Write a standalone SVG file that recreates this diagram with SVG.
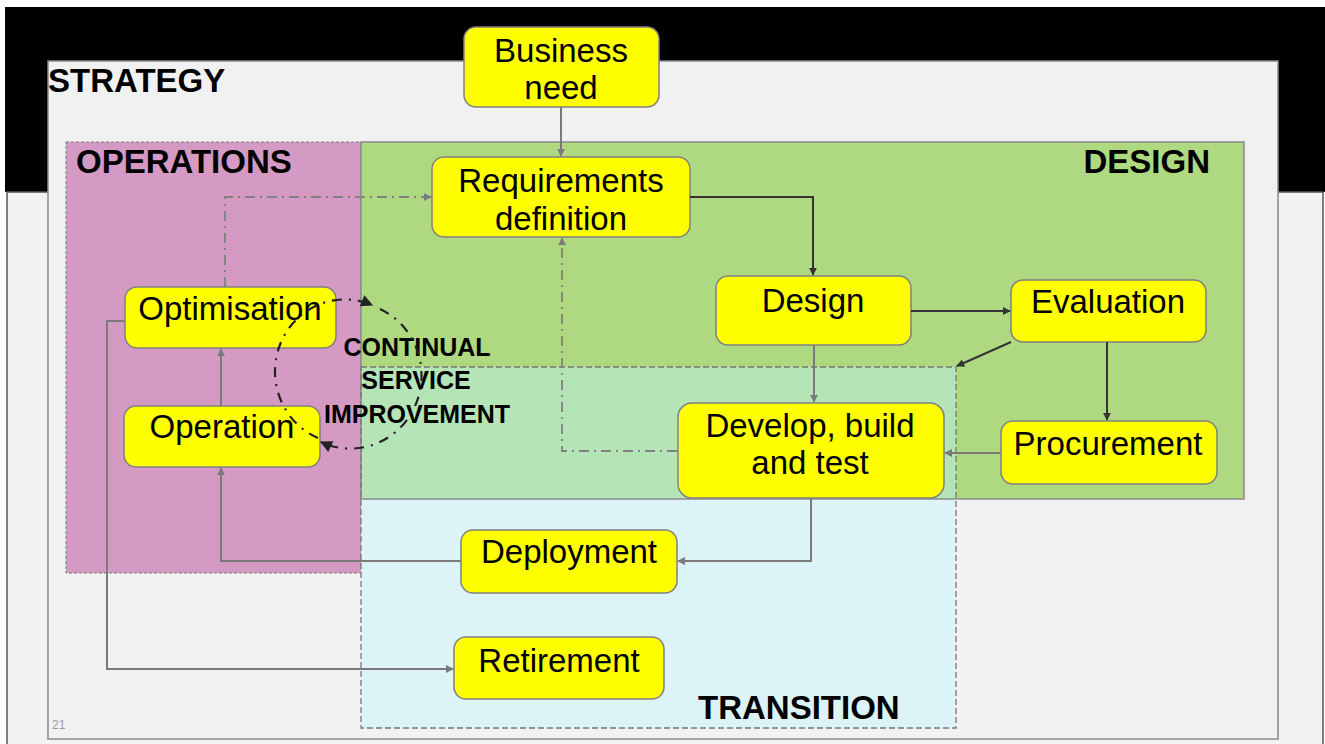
<svg xmlns="http://www.w3.org/2000/svg" width="1325" height="744" viewBox="0 0 1325 744">
<defs>
<style>
.node rect{fill:#ffff00;stroke:#808080;stroke-width:1.5}
.node text{font-family:"Liberation Sans",Arial,sans-serif;font-size:33px;fill:#000;text-anchor:middle}
.title{font-family:"Liberation Sans",Arial,sans-serif;font-size:33px;font-weight:bold;fill:#000}
.csi{font-family:"Liberation Sans",Arial,sans-serif;font-size:25px;font-weight:bold;fill:#000;text-anchor:middle}
.cg{fill:none;stroke:#7a7a7a;stroke-width:2}
.cd{fill:none;stroke:#333;stroke-width:2}
.dd{fill:none;stroke:#808080;stroke-width:1.8;stroke-dasharray:10 5 2 5}
.circ{fill:none;stroke:#222;stroke-width:2.2;stroke-dasharray:10 7 2 7}
</style>
<marker id="ag" viewBox="0 0 10 10" refX="9" refY="5" markerWidth="8" markerHeight="8" markerUnits="userSpaceOnUse" orient="auto"><path d="M0 0L10 5L0 10z" fill="#7a7a7a"/></marker>
<marker id="ad" viewBox="0 0 10 10" refX="9" refY="5" markerWidth="8" markerHeight="8" markerUnits="userSpaceOnUse" orient="auto"><path d="M0 0L10 5L0 10z" fill="#333"/></marker>
<marker id="ak" viewBox="0 0 10 10" refX="9" refY="5" markerWidth="14" markerHeight="12" markerUnits="userSpaceOnUse" orient="auto"><path d="M0 0L10 5L0 10z" fill="#222"/></marker>
</defs>
<rect x="0" y="0" width="1325" height="744" fill="#ffffff"/>
<rect x="5" y="7" width="1320" height="185" fill="#000000"/>
<rect x="7" y="192" width="1316" height="560" fill="#f2f2f2" stroke="#555" stroke-width="1.5"/>
<g id="strategy">
<rect x="48" y="61" width="1230" height="678" fill="#f1f1f1" stroke="#8a8a8a" stroke-width="1.5"/>
<text class="title" x="48" y="92">STRATEGY</text>
<text x="52" y="729" font-family="Liberation Sans,Arial,sans-serif" font-size="12" fill="#9a9a9a">21</text>
</g>
<g id="operations">
<rect x="66" y="142" width="295" height="431" fill="#d49ac4" stroke="#7a7a7a" stroke-width="1" stroke-dasharray="3 2"/>
<text class="title" x="76" y="173">OPERATIONS</text>
</g>
<g id="design-area">
<rect x="361" y="142" width="883" height="357" fill="#aed981"/>
</g>
<g id="transition">
<rect x="361" y="367" width="595" height="361" fill="#dcf3f7"/>
<rect x="361" y="367" width="595" height="132" fill="#b5e5b7"/>
<rect x="361" y="142" width="883" height="357" fill="none" stroke="#8a8a8a" stroke-width="1.5"/>
<rect x="361" y="367" width="595" height="361" fill="none" stroke="#777" stroke-width="1.3" stroke-dasharray="6 3"/>
<text class="title" x="1210" y="173" text-anchor="end">DESIGN</text>
<text class="title" x="698" y="719">TRANSITION</text>
</g>
<g id="n-business" class="node"><rect x="464" y="27" width="195" height="80" rx="12"/><text x="561" y="62">Business</text><text x="561" y="99">need</text></g>
<g id="n-req" class="node"><rect x="432" y="157" width="258" height="80" rx="12"/><text x="561" y="192">Requirements</text><text x="561" y="230">definition</text></g>
<g id="n-design" class="node"><rect x="716" y="276" width="195" height="69" rx="12"/><text x="813" y="312">Design</text></g>
<g id="n-eval" class="node"><rect x="1011" y="280" width="195" height="62" rx="12"/><text x="1108" y="313">Evaluation</text></g>
<g id="n-proc" class="node"><rect x="1001" y="421" width="216" height="63" rx="12"/><text x="1108" y="455">Procurement</text></g>
<g id="n-dev" class="node"><rect x="678" y="403" width="266" height="95" rx="14"/><text x="810" y="437">Develop, build</text><text x="810" y="474">and test</text></g>
<g id="n-deploy" class="node"><rect x="461" y="530" width="216" height="63" rx="12"/><text x="569" y="563">Deployment</text></g>
<g id="n-retire" class="node"><rect x="454" y="637" width="210" height="62" rx="12"/><text x="559" y="672">Retirement</text></g>
<g id="n-optim" class="node"><rect x="125" y="287" width="211" height="61" rx="12"/><text x="230" y="320">Optimisation</text></g>
<g id="n-oper" class="node"><rect x="124" y="406" width="196" height="61" rx="12"/><text x="222" y="438">Operation</text></g>
<g id="csi-label">
<text class="csi" x="417" y="356">CONTINUAL</text>
<text class="csi" x="416" y="389">SERVICE</text>
<text class="csi" x="417" y="423">IMPROVEMENT</text>
</g>
<g id="connectors">
<path class="cg" d="M561 107V156" marker-end="url(#ag)"/>
<path class="cd" d="M690 197H813V275" marker-end="url(#ad)"/>
<path class="cd" d="M911 311H1010" marker-end="url(#ad)"/>
<path class="cd" d="M1011 342L957 366" marker-end="url(#ad)"/>
<path class="cd" d="M1107 342V420" marker-end="url(#ad)"/>
<path class="cg" d="M1001 453H945" marker-end="url(#ag)"/>
<path class="cg" d="M814 345V402" marker-end="url(#ag)"/>
<path class="cg" d="M811 498V561H678" marker-end="url(#ag)"/>
<path class="cg" d="M461 561H221V468" marker-end="url(#ag)"/>
<path class="cg" d="M221 406V349" marker-end="url(#ag)"/>
<path class="cg" d="M125 321H107V669H453" marker-end="url(#ag)"/>
<path class="dd" d="M225 287V197H431" marker-end="url(#ag)"/>
<path class="dd" d="M677 451H562V238" marker-end="url(#ag)"/>
<path class="circ" d="M318 438A69 71 0 0 1 372 305" marker-end="url(#ak)"/>
<path class="circ" d="M380 309A69 71 0 0 1 321 442" marker-end="url(#ak)"/>
</g>
</svg>
